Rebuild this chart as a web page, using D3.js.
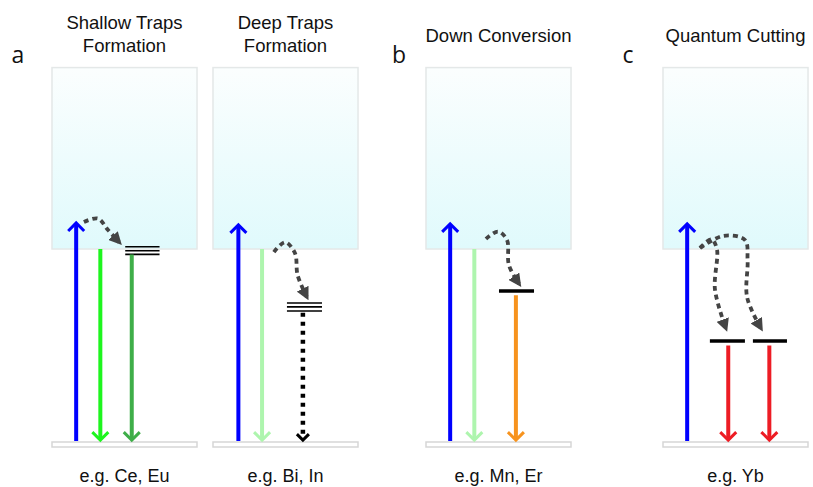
<!DOCTYPE html>
<html lang="en">
  <head>
    <meta charset="UTF-8" />
    <script src="https://cdn.jsdelivr.net/npm/d3@7"></script>
    <style>
      body { margin: 0; background: #fff; }
      text { font-family: "Liberation Sans", Arial, sans-serif; fill: #111; }
    </style>
  </head>
  <body>
    <div id="fig"></div>
    <script>
      const width = 813, height = 487;

      // panel content
      const panelLetters = ["a", "", "b", "c"];
      const panelTitles = [
        ["Shallow Traps", "Formation"],
        ["Deep Traps", "Formation"],
        ["Down Conversion"],
        ["Quantum Cutting"],
      ];
      const examples = ["e.g. Ce, Eu", "e.g. Bi, In", "e.g. Mn, Er", "e.g. Yb"];

      // energies: 0 = ground band, 1 = bottom of conduction band
      // straight transitions [panel, slot, from, to, colour, kind]
      const transitions = [
        [0, 1.0, 0.005, 1.135, "#0000ff", "solid"],
        [0, 2.0, 1.0, 0.01, "#1ef51e", "solid"],
        [0, 3.3, 0.972, 0.01, "#3fae49", "solid"],
        [1, 1.05, 0.005, 1.125, "#0000ff", "solid"],
        [1, 2.03, 1.0, 0.01, "#aef5ae", "solid"],
        [1, 3.72, 0.67, 0.01, "#000000", "dotted"],
        [2, 1.0, 0.005, 1.13, "#0000ff", "solid"],
        [2, 2.0, 1.0, 0.01, "#aef5ae", "solid"],
        [2, 3.72, 0.76, 0.01, "#f7931e", "solid"],
        [3, 1.0, 0.005, 1.13, "#0000ff", "solid"],
        [3, 2.7, 0.5, 0.01, "#ed1c24", "solid"],
        [3, 4.4, 0.5, 0.01, "#ed1c24", "solid"],
      ];

      // trap / emitter levels [panel, slotStart, slotEnd, energies]
      const levels = [
        [0, 3.03, 4.45, [1.012, 0.991, 0.972]],
        [1, 3.06, 4.51, [0.72, 0.70, 0.679]],
        [2, 3.02, 4.47, [0.782]],
        [3, 1.94, 3.39, [0.523]],
        [3, 3.72, 5.13, [0.523]],
      ];

      // non-radiative relaxation paths [panel, [[slot, energy], ...]]
      const relaxations = [
        [0, [[1.32, 1.14], [1.9, 1.158], [2.32, 1.098], [2.78, 1.035]]],
        [1, [[2.52, 0.984], [2.98, 1.035], [3.39, 0.979], [3.5, 0.865], [3.88, 0.752]]],
        [2, [[2.48, 1.052], [2.98, 1.09], [3.35, 1.047], [3.43, 0.917], [3.85, 0.82]]],
        [3, [[1.53, 1.005], [2.0, 1.05], [2.23, 1.0], [2.15, 0.79], [2.6, 0.59]]],
        [3, [[1.53, 1.005], [2.5, 1.068], [3.39, 1.047], [3.5, 0.94], [3.48, 0.75], [4.05, 0.59]]],
      ];

      // layout
      const panelLeft = [52, 213, 426, 663];
      const panelW = 145;
      const cbTopEnergy = 1.94;

      const y = d3.scaleLinear().domain([0, 1]).range([442, 249]);
      const x = d3.scaleLinear().domain([0, 6]).range([0, panelW]);
      const px = (p, s) => panelLeft[p] + x(s);

      const svg = d3
        .select("#fig")
        .append("svg")
        .attr("width", width)
        .attr("height", height);

      const defs = svg.append("defs");
      const grad = defs
        .append("linearGradient")
        .attr("id", "cb")
        .attr("x1", 0).attr("y1", 0).attr("x2", 0).attr("y2", 1);
      grad.append("stop").attr("offset", "0%").attr("stop-color", "#fbfefe");
      grad.append("stop").attr("offset", "100%").attr("stop-color", "#e0fafc");

      defs
        .append("marker")
        .attr("id", "tri")
        .attr("viewBox", "0 0 10 10")
        .attr("refX", 7)
        .attr("refY", 5)
        .attr("markerWidth", 13)
        .attr("markerHeight", 13)
        .attr("markerUnits", "userSpaceOnUse")
        .attr("orient", "auto")
        .append("path")
        .attr("d", "M0,0 L10,5 L0,10 Z")
        .attr("fill", "#444");

      // bands
      panelLeft.forEach((l, i) => {
        svg.append("rect")
          .attr("x", l)
          .attr("y", y(cbTopEnergy))
          .attr("width", panelW)
          .attr("height", y(1) - y(cbTopEnergy))
          .attr("fill", "url(#cb)")
          .attr("stroke", "#e4e8e8")
          .attr("stroke-width", 1.5);
        svg.append("rect")
          .attr("x", l)
          .attr("y", y(0))
          .attr("width", panelW)
          .attr("height", 5)
          .attr("fill", "#fff")
          .attr("stroke", "#d6d6d6")
          .attr("stroke-width", 1.5);
      });

      // titles, letters, examples
      panelTitles.forEach((lines, i) => {
        const cx = panelLeft[i] + panelW / 2;
        const base = lines.length === 2 ? 29 : 42;
        lines.forEach((t, j) => {
          svg.append("text")
            .attr("x", cx)
            .attr("y", base + j * 23)
            .attr("text-anchor", "middle")
            .style("font-size", "18.5px")
            .text(t);
        });
        svg.append("text")
          .attr("x", cx)
          .attr("y", 482)
          .attr("text-anchor", "middle")
          .style("font-size", "18px")
          .text(examples[i]);
      });
      const letterX = [18, 0, 399, 628];
      panelLetters.forEach((t, i) => {
        if (!t) return;
        svg.append("text")
          .attr("x", letterX[i])
          .attr("y", 63)
          .attr("text-anchor", "middle")
          .style("font-family", "'Open Sans', sans-serif")
          .style("font-size", "23px")
          .text(t);
      });

      // levels
      levels.forEach(([p, s0, s1, es]) => {
        es.forEach((e) => {
          svg.append("line")
            .attr("x1", px(p, s0)).attr("x2", px(p, s1))
            .attr("y1", y(e)).attr("y2", y(e))
            .attr("stroke", "#000")
            .attr("stroke-width", es.length > 1 ? 1.6 : 3.5);
        });
      });

      // straight arrows
      transitions.forEach(([p, s, e0, e1, col, kind]) => {
        const xx = px(p, s);
        const y0 = y(e0), y1 = y(e1);
        const dir = y1 < y0 ? 1 : -1; // +1 when going up
        svg.append("line")
          .attr("x1", xx).attr("x2", xx)
          .attr("y1", y0).attr("y2", y1 + dir * 1.5)
          .attr("stroke", col)
          .attr("stroke-width", kind === "dotted" ? 4.5 : 4)
          .attr("stroke-dasharray", kind === "dotted" ? "4,5" : null);
        const hw = kind === "dotted" ? 6 : 8;
        svg.append("path")
          .attr("d", d3.line()([[xx - hw, y1 + dir * hw], [xx, y1], [xx + hw, y1 + dir * hw]]))
          .attr("fill", "none")
          .attr("stroke", col)
          .attr("stroke-width", 3);
      });

      // dashed relaxation curves
      const curve = d3.line().curve(d3.curveCatmullRom.alpha(0.5));
      relaxations.forEach(([p, pts]) => {
        svg.append("path")
          .attr("d", curve(pts.map(([s, e]) => [px(p, s), y(e)])))
          .attr("fill", "none")
          .attr("stroke", "#444")
          .attr("stroke-width", 3.8)
          .attr("stroke-dasharray", "5,4")
          .attr("marker-end", "url(#tri)");
      });
    </script>
  </body>
</html>
